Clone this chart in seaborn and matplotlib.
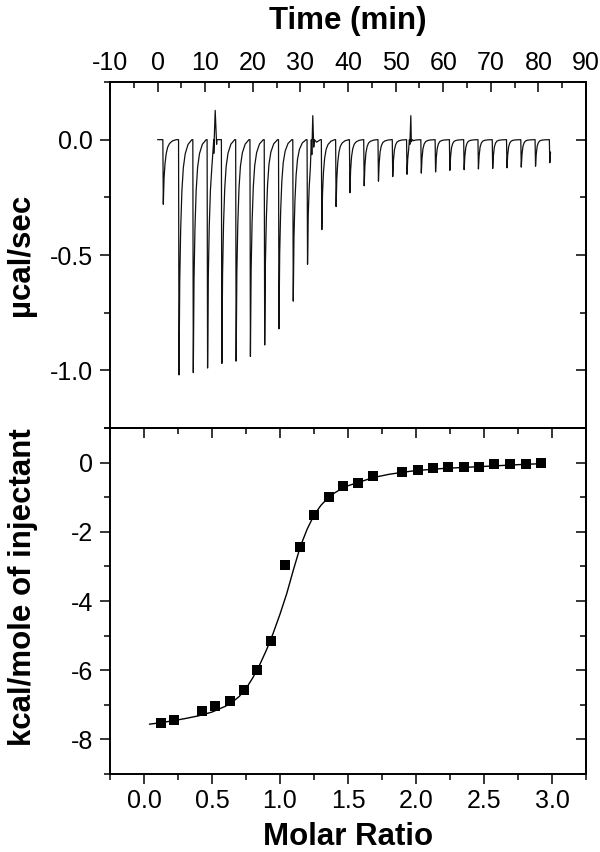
import numpy as np
import pandas as pd
import matplotlib
matplotlib.use("Agg")
import matplotlib.pyplot as plt
import seaborn as sns
from matplotlib.ticker import MultipleLocator

# ───────────── raw thermogram (top panel) ─────────────
inj_time = [1.1, 4.4, 7.4, 10.4, 13.4, 16.4, 19.4, 22.4, 25.4, 28.4, 31.4, 34.4,
            37.4, 40.3, 43.3, 46.3, 49.3, 52.3, 55.3, 58.3, 61.3, 64.3, 67.3,
            70.3, 73.3, 76.3, 79.3, 82.3]
inj_depth = [-0.28, -1.02, -1.01, -0.99, -0.97, -0.96, -0.94, -0.89, -0.82,
             -0.70, -0.54, -0.39, -0.29, -0.23, -0.20, -0.18, -0.16, -0.15,
             -0.145, -0.14, -0.133, -0.13, -0.127, -0.125, -0.122, -0.119,
             -0.115, -0.10]
rebound_amp = [0.0] * 11 + [0.008, 0.012, 0.014] + [0.016] * 14
# one injection peak: minutes after injection, fraction of depth, rebound shape
peak_dt = [0.0, 0.1, 0.25, 0.45, 0.7, 1.0, 1.4, 2.0, 2.8]
peak_frac = [0.0, 1.0, 0.6, 0.38, 0.22, 0.12, 0.06, 0.02, 0.0]
rebound = [0.0, 0.0, 0.4, 1.0, 0.8, 0.55, 0.3, 0.1, 0.0]
# mixing artefacts (upward spikes)
spike_time = [12.1, 32.6, 53.2]
spike_height = [0.127, 0.104, 0.104]

# ───────────── integrated heats (bottom panel) ─────────────
molar_ratio = [0.125, 0.223, 0.424, 0.524, 0.630, 0.733, 0.833, 0.936, 1.039,
               1.145, 1.250, 1.360, 1.465, 1.574, 1.684, 1.899, 2.012, 2.123,
               2.237, 2.351, 2.463, 2.576, 2.691, 2.807, 2.921]
heat = [-7.53, -7.43, -7.19, -7.04, -6.89, -6.57, -5.99, -5.15, -2.96, -2.43,
        -1.51, -0.99, -0.69, -0.58, -0.40, -0.28, -0.21, -0.16, -0.14, -0.14,
        -0.12, -0.04, -0.05, -0.03, -0.01]
fit_x = [0.04, 0.1, 0.2, 0.3, 0.4, 0.5, 0.6, 0.65, 0.7, 0.75, 0.8, 0.85, 0.9,
         0.95, 1.0, 1.05, 1.1, 1.15, 1.2, 1.25, 1.3, 1.35, 1.4, 1.45, 1.5, 1.6,
         1.7, 1.8, 1.9, 2.0, 2.2, 2.4, 2.6, 2.8, 2.93]
fit_y = [-7.56, -7.53, -7.47, -7.40, -7.32, -7.21, -7.04, -6.92, -6.76, -6.53,
         -6.22, -5.85, -5.42, -4.93, -4.38, -3.78, -3.08, -2.42, -1.92, -1.52,
         -1.24, -1.03, -0.88, -0.76, -0.67, -0.54, -0.42, -0.34, -0.28, -0.23,
         -0.17, -0.13, -0.09, -0.05, -0.03]

# ───────────── build the trace table ─────────────
rows = [(0.0, 0.0)]
for i, (t, d, a) in enumerate(zip(inj_time, inj_depth, rebound_amp)):
    last = i == len(inj_time) - 1
    for dt, f, r in zip(peak_dt, peak_frac, rebound):
        if last and dt > 0.25:
            break
        rows.append((t + dt, d * f + a * r))
for t, h in zip(spike_time, spike_height):
    rows += [(t - 0.3, 0.0), (t, h), (t + 0.35, 0.0)]
trace = pd.DataFrame(rows, columns=["time", "power"])

sns.set_theme(style="ticks")
plt.rcParams["font.family"] = ["Liberation Sans", "DejaVu Sans"]
plt.rcParams["axes.unicode_minus"] = False
for key in ["text.color", "axes.labelcolor", "xtick.color", "ytick.color",
            "axes.edgecolor"]:
    plt.rcParams[key] = "black"

TICK_FS, LABEL_FS = 18, 22.5
SPINE_W = 1.4

fig = plt.figure(figsize=(6, 8.52), dpi=100)
ax1 = fig.add_axes([0.18333, 0.49765, 0.79333, 0.40610])
ax2 = fig.add_axes([0.18333, 0.09155, 0.79333, 0.40610])

sns.lineplot(data=trace, x="time", y="power", ax=ax1, color="#111111",
             lw=0.9, estimator=None, sort=True)
sns.lineplot(x=fit_x, y=fit_y, ax=ax2, color="black", lw=1.0,
             estimator=None, sort=False)
sns.scatterplot(x=molar_ratio, y=heat, ax=ax2, marker="s", s=55,
                color="black", linewidth=0, zorder=3)


def style_axis(ax):
    for sp in ax.spines.values():
        sp.set_visible(True)
        sp.set_linewidth(SPINE_W)
        sp.set_color("black")
    ax.tick_params(which="both", width=1.1, colors="black",
                   labelsize=TICK_FS)
    ax.tick_params(which="major", length=7)
    ax.tick_params(which="minor", length=4)


def mirror_ticks(sec, major, minor):
    axis = sec.yaxis if hasattr(sec, "yaxis") and sec._orientation == "y" else sec.xaxis
    axis.set_major_locator(MultipleLocator(major))
    axis.set_minor_locator(MultipleLocator(minor))
    sec.tick_params(which="both", direction="in", labelleft=False,
                    labelright=False, labeltop=False, labelbottom=False,
                    width=1.1, colors="black")
    sec.tick_params(which="major", length=7)
    sec.tick_params(which="minor", length=4)
    for sp in sec.spines.values():
        sp.set_linewidth(SPINE_W)


# top panel
ax1.set_xlim(-10, 90)
ax1.set_ylim(-1.25, 0.25)
ax1.xaxis.set_major_locator(MultipleLocator(10))
ax1.xaxis.set_minor_locator(MultipleLocator(5))
ax1.yaxis.set_major_locator(MultipleLocator(0.5))
ax1.yaxis.set_minor_locator(MultipleLocator(0.25))
style_axis(ax1)
ax1.tick_params(axis="x", which="both", top=True, bottom=False,
                labeltop=True, labelbottom=False, direction="in", pad=5)
ax1.tick_params(axis="y", which="both", left=True, right=False,
                direction="out", pad=5)
ax1.set_xlabel("Time (min)", fontsize=LABEL_FS, fontweight="bold")
ax1.xaxis.set_label_position("top")
ax1.xaxis.set_label_coords(0.5, 1.153)
ax1.set_ylabel("µcal/sec", fontsize=LABEL_FS, fontweight="bold")
ax1.yaxis.set_label_coords(-0.155, 0.5)
mirror_ticks(ax1.secondary_yaxis("right"), 0.5, 0.25)

# bottom panel
ax2.set_xlim(-0.25, 3.25)
ax2.set_ylim(-9, 1)
ax2.xaxis.set_major_locator(MultipleLocator(0.5))
ax2.xaxis.set_minor_locator(MultipleLocator(0.25))
ax2.yaxis.set_major_locator(MultipleLocator(2))
ax2.yaxis.set_minor_locator(MultipleLocator(1))
style_axis(ax2)
ax2.tick_params(axis="x", which="both", direction="out", pad=4)
ax2.tick_params(axis="y", which="both", direction="out", pad=5)
ax2.set_xlabel("Molar Ratio", fontsize=LABEL_FS, fontweight="bold")
ax2.xaxis.set_label_coords(0.5, -0.140)
ax2.set_ylabel("kcal/mole of injectant", fontsize=LABEL_FS, fontweight="bold")
ax2.yaxis.set_label_coords(-0.152, 0.54)
mirror_ticks(ax2.secondary_xaxis("top"), 0.5, 0.25)
mirror_ticks(ax2.secondary_yaxis("right"), 2, 1)

fig.savefig("out.png", dpi=100)
